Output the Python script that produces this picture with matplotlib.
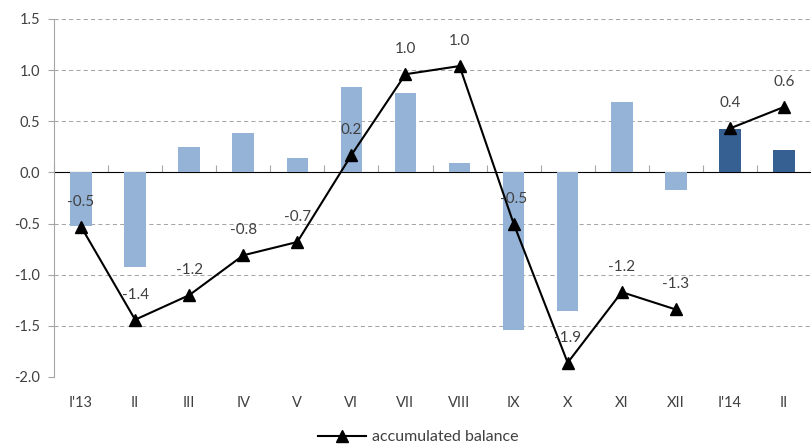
import matplotlib
matplotlib.use("Agg")
import matplotlib.pyplot as plt
import numpy as np

months = ["I'13", "II", "III", "IV", "V", "VI", "VII", "VIII", "IX", "X", "XI", "XII", "I'14", "II"]
monthly = [-0.52, -0.92, 0.25, 0.39, 0.14, 0.84, 0.78, 0.09, -1.54, -1.35, 0.69, -0.17, 0.42, 0.22]
accumulated = [-0.53, -1.44, -1.20, -0.81, -0.68, 0.17, 0.96, 1.04, -0.50, -1.86, -1.17, -1.34, 0.43, 0.64]
# the first twelve months are from 2013, the rest from 2014
year_2014_start = 12

light = "#95B3D7"
dark = "#376092"
text_col = "#404040"
axis_col = "#A6A6A6"

plt.rcParams["font.family"] = ["Lato", "DejaVu Sans"]
plt.rcParams["font.size"] = 10.5

fig = plt.figure(figsize=(8.11, 4.47), dpi=100)
ax = fig.add_axes([54 / 811, 1 - 377 / 447, 1 - 54 / 811, (377 - 19) / 447])

x = np.arange(len(months))
colors = [light if i < year_2014_start else dark for i in x]
ax.bar(x, monthly, width=0.4, color=colors, zorder=2)

ax.plot(x[:year_2014_start], accumulated[:year_2014_start], color="black", lw=1.5,
        marker="^", markersize=9, zorder=3, label="accumulated balance")
ax.plot(x[year_2014_start:], accumulated[year_2014_start:], color="black", lw=1.5,
        marker="^", markersize=9, zorder=3)

for xi, v in zip(x, accumulated):
    ax.annotate(f"{v:.1f}", (xi, v), xytext=(0, 18), textcoords="offset points",
                ha="center", va="center", color=text_col, fontsize=11, zorder=4)

ax.set_xlim(-0.5, len(months) - 0.5)
ax.set_ylim(-2.0, 1.5)
yt = np.arange(-2.0, 1.51, 0.5)
ax.set_yticks(yt)
ax.set_yticklabels([f"{t:.1f}" for t in yt], color=text_col)

# dashed gridlines (the zero line is drawn as the category axis)
for t in yt:
    if abs(t) > 1e-9:
        ax.axhline(t, color="#A6A6A6", lw=0.75, ls=(0, (4, 3)), zorder=0)

for s in ["top", "right", "bottom"]:
    ax.spines[s].set_visible(False)
ax.spines["left"].set_color(axis_col)
ax.tick_params(axis="y", direction="out", length=4, color=axis_col, pad=6)

# category labels sit at the bottom of the plot
ax.set_xticks(x)
ax.set_xticklabels(months, color=text_col)
ax.tick_params(axis="x", length=0, pad=14)

# category axis through zero with tick marks between categories
zero_frac = (0 - (-2.0)) / 3.5
sec = ax.secondary_xaxis(zero_frac)
sec.set_xticks(np.arange(-0.5, len(months), 1.0))
sec.set_xticklabels([])
sec.spines["bottom"].set_color(axis_col)
sec.tick_params(axis="x", direction="out", length=5, color=axis_col)

fig.legend(handles=[ax.lines[0]], labels=["accumulated balance"], loc="center",
           bbox_to_anchor=(0.516, 1 - 437 / 447), frameon=False, handlelength=3.0,
           handletextpad=0.4, labelcolor=text_col, fontsize=11.5,
           borderpad=0, borderaxespad=0)

fig.savefig("out.png", dpi=100)
